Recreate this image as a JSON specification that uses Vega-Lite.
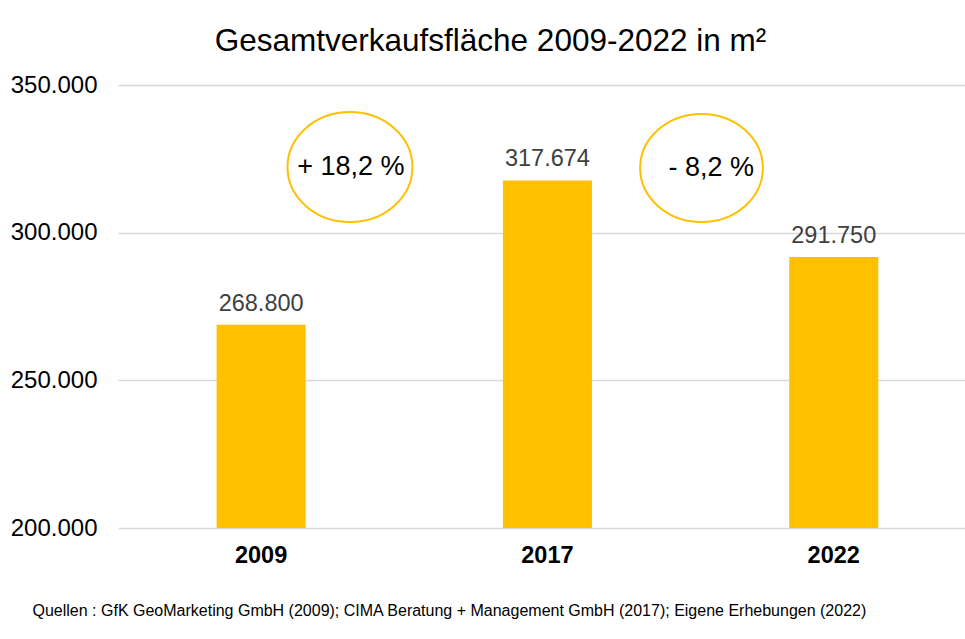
{
  "$schema": "https://vega.github.io/schema/vega-lite/v6.json",
  "width": 847,
  "height": 443,
  "autosize": {"type": "none"},
  "padding": {"left": 118, "top": 85, "right": 0, "bottom": 111},
  "background": "white",
  "config": {
    "locale": {"number": {"decimal": ",", "thousands": ".", "grouping": [3], "currency": ["", " €"]}},
    "view": {"stroke": null},
    "font": "Liberation Sans"
  },
  "title": {
    "text": "Gesamtverkaufsfläche 2009-2022 in m²",
    "fontSize": 31.5,
    "font": "Liberation Sans",
    "fontWeight": "normal",
    "color": "#000000",
    "anchor": "middle",
    "dx": -51,
    "baseline": "alphabetic",
    "offset": -9
  },
  "datasets": {
    "bars": [
      {"jahr": "2009", "flaeche": 268800},
      {"jahr": "2017", "flaeche": 317674},
      {"jahr": "2022", "flaeche": 291750}
    ],
    "notes": [
      {"jahr": "2009", "label": "+ 18,2 %", "pos": 322200},
      {"jahr": "2017", "label": "- 8,2 %", "pos": 321900}
    ]
  },
  "layer": [
    {
      "data": {"name": "bars"},
      "mark": {"type": "bar", "color": "#FFC000", "clip": true},
      "encoding": {
        "x": {
          "field": "jahr",
          "type": "nominal",
          "title": "Quellen : GfK GeoMarketing GmbH (2009); CIMA Beratung + Management GmbH (2017); Eigene Erhebungen (2022)",
          "scale": {"paddingInner": 0.689, "paddingOuter": 0.3236, "align": 0.532},
          "axis": {
            "labelFontSize": 23.5,
            "labelFontWeight": "bold",
            "labelColor": "#000000",
            "labelFont": "Liberation Sans",
            "labelPadding": 15,
            "labelAngle": 0,
            "ticks": false,
            "domain": false,
            "titleFont": "Liberation Sans",
            "titleFontSize": 16,
            "titleFontWeight": "normal",
            "titleColor": "#000000",
            "titleAnchor": "start",
            "titleAlign": "left",
            "titleBaseline": "alphabetic",
            "titleX": -86,
            "titleY": 87
          }
        },
        "y": {
          "field": "flaeche",
          "type": "quantitative",
          "title": null,
          "scale": {"domain": [200000, 350000], "zero": false, "nice": false},
          "axis": {
            "values": [200000, 250000, 300000, 350000],
            "format": ",d",
            "labelFontSize": 24,
            "labelFont": "Liberation Sans",
            "labelColor": "#000000",
            "labelPadding": 21,
            "grid": true,
            "gridColor": "#d9d9d9",
            "gridWidth": 1.3,
            "domain": false,
            "ticks": false
          }
        }
      }
    },
    {
      "data": {"name": "bars"},
      "mark": {"type": "text", "fontSize": 23.5, "font": "Liberation Sans", "color": "#404040", "baseline": "alphabetic", "dy": -14},
      "encoding": {
        "x": {"field": "jahr", "type": "nominal", "title": "Quellen : GfK GeoMarketing GmbH (2009); CIMA Beratung + Management GmbH (2017); Eigene Erhebungen (2022)"},
        "y": {"field": "flaeche", "type": "quantitative", "title": null},
        "text": {"field": "flaeche", "type": "quantitative", "format": ",d"}
      }
    },
    {
      "data": {"name": "notes"},
      "transform": [{"filter": "datum.jahr == '2009'"}],
      "layer": [
        {
          "mark": {"type": "point", "shape": "M -1.136 0 A 1.136 1 0 1 0 1.136 0 A 1.136 1 0 1 0 -1.136 0 Z", "size": 12100, "filled": false, "stroke": "#FFC000", "strokeWidth": 2, "opacity": 1},
          "encoding": {
            "x": {"field": "jahr", "type": "nominal", "bandPosition": 1.498, "title": "Quellen : GfK GeoMarketing GmbH (2009); CIMA Beratung + Management GmbH (2017); Eigene Erhebungen (2022)"},
            "y": {"field": "pos", "type": "quantitative", "title": null}
          }
        },
        {
          "mark": {"type": "text", "fontSize": 27, "font": "Liberation Sans", "color": "#000000", "baseline": "middle", "align": "center"},
          "encoding": {
            "x": {"field": "jahr", "type": "nominal", "bandPosition": 1.509, "title": "Quellen : GfK GeoMarketing GmbH (2009); CIMA Beratung + Management GmbH (2017); Eigene Erhebungen (2022)"},
            "y": {"field": "pos", "type": "quantitative", "title": null},
            "text": {"field": "label", "type": "nominal"}
          }
        }
      ]
    },
    {
      "data": {"name": "notes"},
      "transform": [{"filter": "datum.jahr == '2017'"}],
      "layer": [
        {
          "mark": {"type": "point", "shape": "M -1.136 0 A 1.136 1 0 1 0 1.136 0 A 1.136 1 0 1 0 -1.136 0 Z", "size": 11664, "filled": false, "stroke": "#FFC000", "strokeWidth": 2, "opacity": 1},
          "encoding": {
            "x": {"field": "jahr", "type": "nominal", "bandPosition": 2.23, "title": "Quellen : GfK GeoMarketing GmbH (2009); CIMA Beratung + Management GmbH (2017); Eigene Erhebungen (2022)"},
            "y": {"field": "pos", "type": "quantitative", "title": null}
          }
        },
        {
          "mark": {"type": "text", "fontSize": 27, "font": "Liberation Sans", "color": "#000000", "baseline": "middle", "align": "center"},
          "encoding": {
            "x": {"field": "jahr", "type": "nominal", "bandPosition": 2.34, "title": "Quellen : GfK GeoMarketing GmbH (2009); CIMA Beratung + Management GmbH (2017); Eigene Erhebungen (2022)"},
            "y": {"field": "pos", "type": "quantitative", "title": null},
            "text": {"field": "label", "type": "nominal"}
          }
        }
      ]
    }
  ]
}
